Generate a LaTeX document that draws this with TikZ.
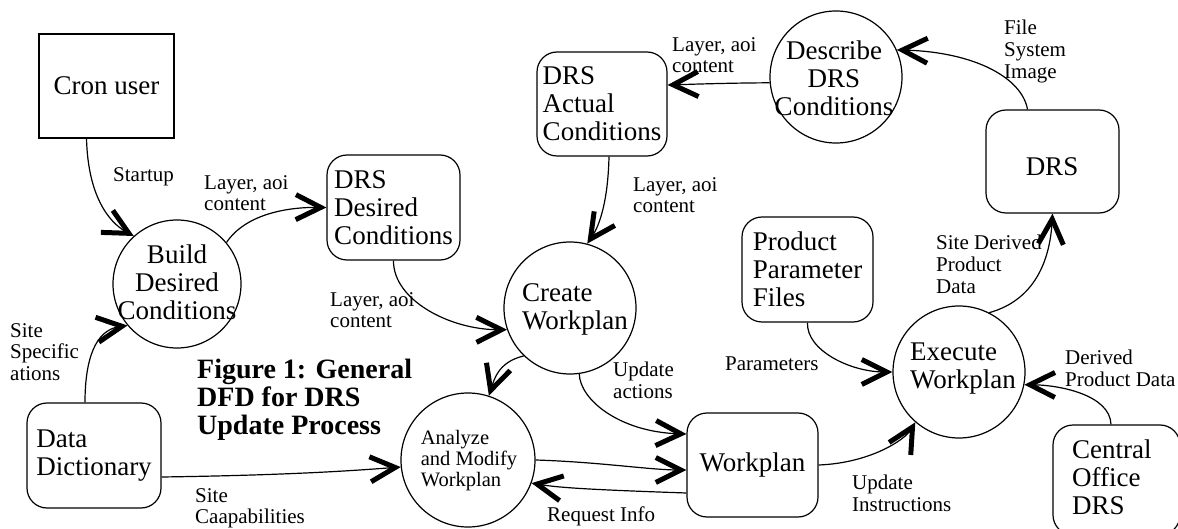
\documentclass[tikz,border=0pt]{standalone}
\usepackage{fontspec}
\setmainfont{Liberation Serif}
\usetikzlibrary{arrows.meta}

\begin{document}
\begin{tikzpicture}[x=1pt,y=-1pt,
  ext/.style={draw, line width=1.2pt, inner sep=0pt},
  box/.style={draw, line width=1.2pt, rounded corners=20pt, inner sep=0pt},
  bubble/.style={draw, circle, line width=1.2pt, inner sep=0pt},
  big/.style={font=\fontsize{27}{28}\selectfont, inner sep=0pt},
  small/.style={font=\fontsize{21}{21.7}\selectfont, inner sep=0pt},
  lbl/.style={small, anchor=north west, align=left},
  flow/.style={line width=1.2pt, -{Straight Barb[length=25pt,width=25pt,line width=5pt]}},
]
\useasboundingbox (0,0) rectangle (1178,529);
\clip (0,0) rectangle (1178,529);

% external entities and data stores
\node[ext, big, minimum width=135pt, minimum height=104pt] (cron) at (106.5,86) {Cron user};
\node[box, big, align=left, minimum width=133pt, minimum height=105pt] (dds) at (393.5,207.5) {DRS\\Desired\\Conditions};
\node[box, big, align=left, minimum width=130pt, minimum height=104pt] (dac) at (602,104) {DRS\\Actual\\Conditions};
\node[box, minimum width=133pt, minimum height=103pt] (drs) at (1052.5,161.5) {};
\node[big] (drstxt) at (1052,167) {DRS};
\node[box, big, align=left, minimum width=131pt, minimum height=105pt] (ppf) at (807.5,269.5) {Product\\Parameter\\Files};
\node[box, big, minimum width=131pt, minimum height=104pt] (wp) at (752.5,465) {Workplan};
\node[box, big, align=left, minimum width=134pt, minimum height=105pt] (dd) at (94,455.5) {Data\\Dictionary};
\node[box, minimum width=127pt, minimum height=110pt] (cod) at (1116.5,480) {};
\node[big, align=left, anchor=west] (codtxt) at (1072,477) {Central\\Office\\DRS};

% processes
\node[bubble, minimum size=128pt] (build) at (177,284) {};
\node[big, align=center] (buildtxt) at (177,282) {Build\\Desired\\Conditions};
\node[bubble, minimum size=132pt] (describe) at (836,77) {};
\node[big, align=center] (describetxt) at (834,78) {Describe\\DRS\\Conditions};
\node[bubble, minimum size=132pt] (create) at (570,308) {};
\node[big, align=left] (createtxt) at (575,309) {Create\\Workplan};
\node[bubble, minimum size=132pt] (execute) at (959,372) {};
\node[big, align=left] (executetxt) at (963,369) {Execute\\Workplan};
\node[bubble, minimum size=134pt] (analyze) at (468,460) {};
\node[font=\fontsize{20.5}{21}\selectfont, inner sep=0pt, align=left] (analyzetxt) at (469,461) {Analyze\\and Modify\\Workplan};

% caption
\node[anchor=north west, inner sep=0pt, align=left, font=\bfseries\fontsize{28}{28}\selectfont] (title) at (197,359) {Figure 1: General\\DFD for DRS\\Update Process};

% data flows
\draw[flow] ([xshift=-20pt]cron.south) .. controls (88,195) and (108,222) .. (build.132);
\draw[flow] (build.40) .. controls (245,215) and (285,207) .. (dds.west);
\draw[flow] (dds.south) .. controls (393,300) and (450,330) .. (create.199);
\draw[flow] ([xshift=7pt]dac.south) .. controls (608,200) and (600,225) .. (create.75);
\draw[flow] (describe.185) .. controls (730,83) and (700,84) .. ([yshift=19pt]dac.east);
\draw[flow] ([xshift=-25pt]drs.north) .. controls (1022,78) and (975,52) .. (describe.24);
\draw[flow] (execute.63) .. controls (1035,300) and (1050,260) .. (drs.south);
\draw[flow] (ppf.south) .. controls (806,350) and (850,372) .. (execute.180);
\draw[flow] ([xshift=-5.5pt]cod.north) .. controls (1110,395) and (1060,385) .. (execute.-11);
\draw[flow] (wp.east) .. controls (870,463) and (905,440) .. (execute.229);
\draw[flow] (create.278) .. controls (580,400) and (620,432) .. ([yshift=31pt]wp.west);
\draw[flow] (create.226) .. controls (498,362) and (494,380) .. (analyze.72);
\draw[flow] (analyze.0) .. controls (600,462) and (650,470) .. ([yshift=-5pt]wp.west);
\draw[flow] ([yshift=-28pt]wp.west) .. controls (600,490) and (560,488) .. (analyze.-20);
\draw[flow] ([yshift=-21.5pt]dd.east) .. controls (300,475) and (360,470) .. (analyze.186);
\draw[flow] ([xshift=-9pt]dd.north) .. controls (85,360) and (95,330) .. (build.220);

% flow labels
\node[lbl] (l1) at (113,167) {Startup};
\node[lbl] (l2) at (204,175) {Layer, aoi\\content};
\node[lbl] (l3) at (672,37) {Layer, aoi\\content};
\node[lbl] (l4) at (633,177) {Layer, aoi\\content};
\node[lbl] (l5) at (1004,20) {File\\System\\Image};
\node[lbl] (l6) at (936,235) {Site Derived\\Product\\Data};
\node[lbl] (l7) at (330,292) {Layer, aoi\\content};
\node[lbl] (l8) at (10,323) {Site\\Specific\\ations};
\node[lbl] (l9) at (725,357) {Parameters};
\node[lbl] (l10) at (613,362) {Update\\actions};
\node[lbl] (l11) at (1065,350) {Derived\\Product Data};
\node[lbl] (l12) at (852,475) {Update\\Instructions};
\node[lbl] (l13) at (195,488) {Site\\Caapabilities};
\node[lbl] (l14) at (547,507) {Request Info};
\end{tikzpicture}
\end{document}
